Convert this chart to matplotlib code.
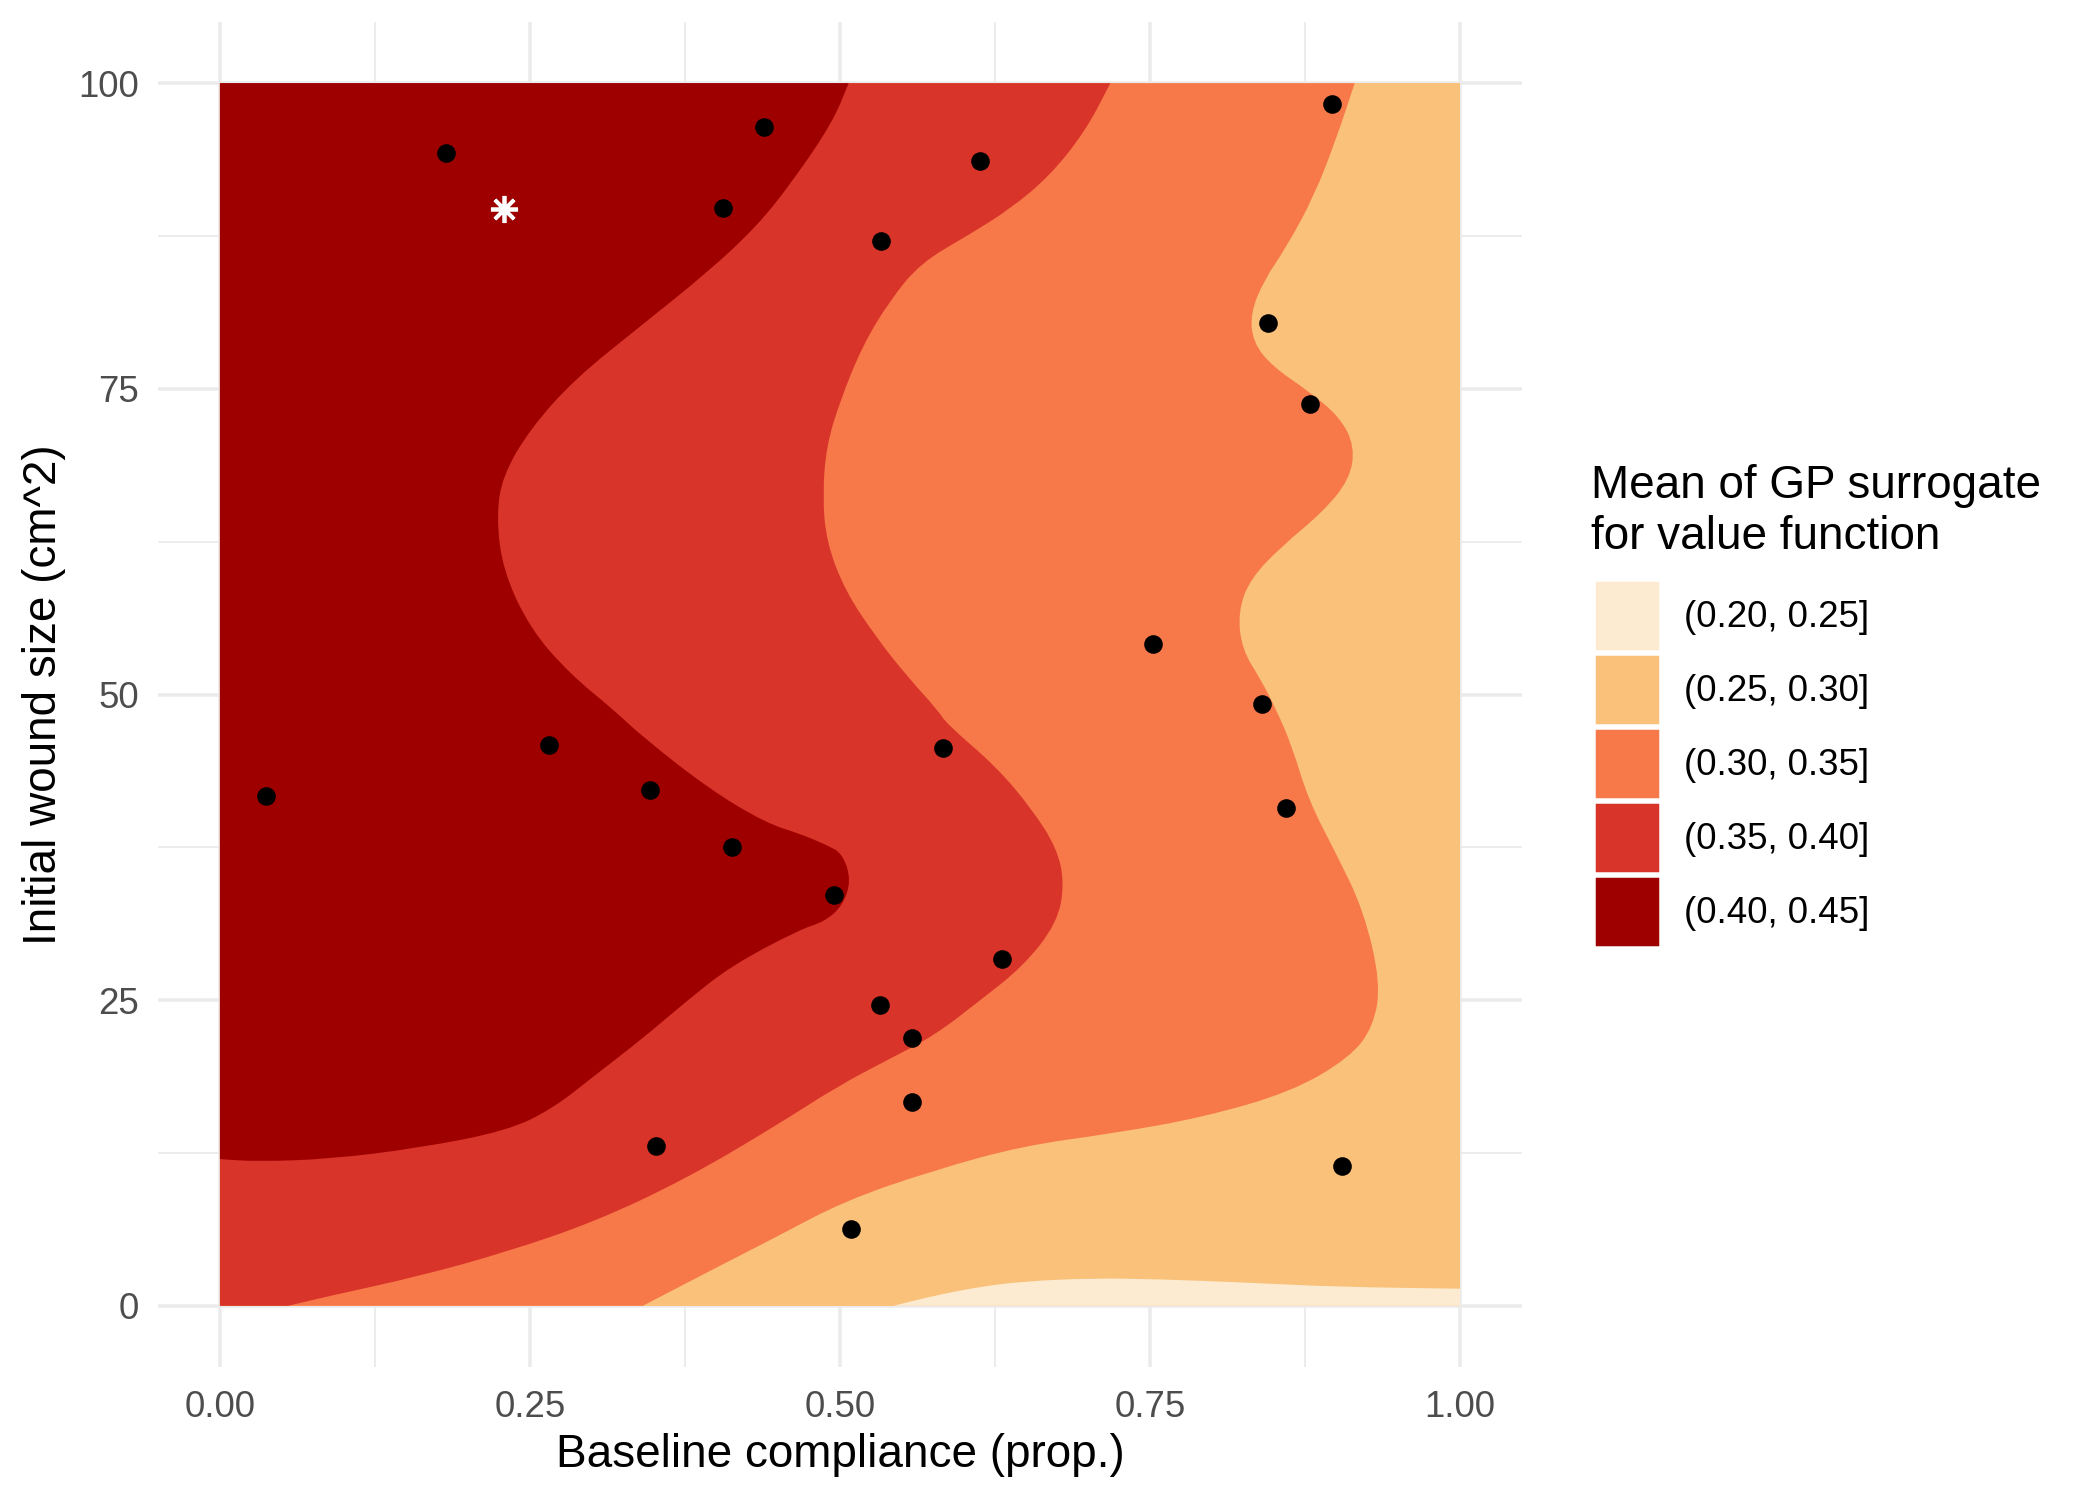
import numpy as np
import matplotlib
matplotlib.use("Agg")
import matplotlib.pyplot as plt
from matplotlib.patches import Patch, PathPatch
from matplotlib.path import Path

plt.rcParams['font.family'] = ['Liberation Sans', 'DejaVu Sans']

# contour boundaries (x = compliance, y = wound size)
# 0.40 level
b1_x = [0.507, 0.494, 0.462, 0.433, 0.394, 0.340, 0.286, 0.250, 0.228, 0.223, 0.228, 0.250,
        0.282, 0.318, 0.340, 0.394, 0.440, 0.468, 0.489, 0.502, 0.509, 0.502, 0.487, 0.468,
        0.412, 0.376, 0.340, 0.303, 0.268, 0.231, 0.160, 0.088, 0.030, 0.0]
b1_y = [100, 96.8, 92.0, 88.3, 84.6, 80.2, 75.8, 71.7, 67.9, 64.6, 60.2, 55.4,
        51.7, 48.7, 46.6, 42.3, 39.5, 38.6, 37.7, 37.0, 34.8, 32.7, 31.4, 30.8,
        27.8, 24.9, 21.8, 18.9, 16.1, 14.3, 12.9, 12.0, 11.8, 12.0]
# 0.35 level
b2_x = [0.718, 0.698, 0.669, 0.637, 0.604, 0.565, 0.540, 0.518, 0.500, 0.489, 0.486, 0.489,
        0.504, 0.529, 0.554, 0.579, 0.586, 0.626, 0.655, 0.675, 0.681, 0.675, 0.648, 0.612,
        0.576, 0.540, 0.497, 0.448, 0.376, 0.303, 0.231, 0.160, 0.088, 0.055]
b2_y = [100, 96.1, 92.4, 89.7, 87.6, 85.3, 82.2, 78.5, 74.0, 70.3, 66.3, 62.5,
        58.5, 54.7, 51.5, 48.7, 47.6, 44.1, 40.6, 37.4, 34.5, 31.3, 27.8, 24.9,
        22.1, 20.2, 17.9, 14.7, 10.4, 6.9, 4.4, 2.4, 0.8, 0.0]
# 0.30 level
b3_x = [0.915, 0.900, 0.882, 0.860, 0.842, 0.831, 0.833, 0.849, 0.878, 0.903, 0.915, 0.911,
        0.889, 0.857, 0.831, 0.821, 0.824, 0.840, 0.852, 0.864, 0.878, 0.900, 0.922, 0.936,
        0.930, 0.911, 0.864, 0.792, 0.720, 0.648, 0.576, 0.504, 0.448, 0.394, 0.341]
b3_y = [100, 95.4, 90.7, 86.6, 83.9, 81.2, 78.8, 76.8, 74.8, 72.7, 70.3, 67.6,
        64.9, 62.2, 59.5, 56.8, 53.7, 51.1, 48.7, 45.9, 41.3, 37.0, 32.4, 26.4,
        22.8, 20.3, 17.5, 15.4, 14.1, 13.1, 11.1, 8.6, 5.6, 2.8, 0.0]
# 0.25 level
b4_x = [0.543, 0.576, 0.612, 0.648, 0.702, 0.756, 0.828, 0.900, 1.0]
b4_y = [0.0, 0.83, 1.55, 2.0, 2.26, 2.18, 1.9, 1.55, 1.4]

# observed design points
pts_x = [0.182, 0.439, 0.406, 0.897, 0.613, 0.533, 0.845, 0.879, 0.752, 0.840, 0.860, 0.583,
         0.495, 0.631, 0.532, 0.558, 0.558, 0.905, 0.509, 0.037, 0.265, 0.347, 0.413, 0.352]
pts_y = [94.3, 96.4, 89.8, 98.3, 93.6, 87.1, 80.4, 73.8, 54.1, 49.2, 40.7, 45.6,
         33.6, 28.4, 24.6, 21.9, 16.7, 11.4, 6.3, 41.7, 45.9, 42.2, 37.5, 13.1]
best_x = [0.229]
best_y = [89.7]

bin_labels = ["(0.20, 0.25]", "(0.25, 0.30]", "(0.30, 0.35]", "(0.35, 0.40]", "(0.40, 0.45]"]
bin_colors = ["#FCEBD1", "#F9C17A", "#F7794A", "#D93429", "#9E0000"]
legend_title = ["Mean of GP surrogate", "for value function"]


def region(xs, ys, close_x, close_y):
    # boundary drawn as a smooth curve (quadratic pieces through midpoints), then closed
    p = list(zip(xs, ys))
    verts = [p[0]]
    codes = [Path.MOVETO]
    verts.append(((p[0][0] + p[1][0]) / 2, (p[0][1] + p[1][1]) / 2))
    codes.append(Path.LINETO)
    for i in range(1, len(p) - 1):
        mid = ((p[i][0] + p[i + 1][0]) / 2, (p[i][1] + p[i + 1][1]) / 2)
        verts += [p[i], mid]
        codes += [Path.CURVE3, Path.CURVE3]
    verts.append(p[-1])
    codes.append(Path.LINETO)
    for cx, cy in zip(close_x, close_y):
        verts.append((cx, cy))
        codes.append(Path.LINETO)
    verts.append(p[0])
    codes.append(Path.CLOSEPOLY)
    return Path(verts, codes)


fig = plt.figure(figsize=(7, 5), dpi=300)
ax = fig.add_axes([0.0752, 0.0887, 0.6496, 0.8966])

# background band, then each region on one side of its boundary
ax.fill([0, 1, 1, 0], [0, 0, 100, 100], color=bin_colors[1], lw=0, zorder=1)
ax.add_patch(PathPatch(region(b3_x, b3_y, [0, 0], [0, 100]), fc=bin_colors[2], lw=0, zorder=2))
ax.add_patch(PathPatch(region(b2_x, b2_y, [0, 0], [0, 100]), fc=bin_colors[3], lw=0, zorder=3))
ax.add_patch(PathPatch(region(b1_x, b1_y, [0], [100]), fc=bin_colors[4], lw=0, zorder=4))
ax.add_patch(PathPatch(region(b4_x, b4_y, [1], [0]), fc=bin_colors[0], lw=0, zorder=5))

ax.scatter(pts_x, pts_y, s=20, color='black', lw=0, zorder=6)
ax.plot(best_x, best_y, ls='none', marker=(8, 2, 0), ms=6.5, mew=0.9, color='white', zorder=7)

ax.set_xlim(-0.05, 1.05)
ax.set_ylim(-5, 105)
ax.set_xticks([0, 0.25, 0.5, 0.75, 1.0])
ax.set_xticklabels(["0.00", "0.25", "0.50", "0.75", "1.00"])
ax.set_xticks([0.125, 0.375, 0.625, 0.875], minor=True)
ax.set_yticks([0, 25, 50, 75, 100])
ax.set_yticks([12.5, 37.5, 62.5, 87.5], minor=True)
ax.set_axisbelow(True)
ax.grid(which='major', color='#EBEBEB', lw=0.85)
ax.grid(which='minor', color='#EBEBEB', lw=0.45)
for s in ax.spines.values():
    s.set_visible(False)
ax.tick_params(which='both', length=0)
ax.tick_params(axis='x', pad=5.5, labelsize=8.8, labelcolor='#4D4D4D')
ax.tick_params(axis='y', pad=4.5, labelsize=8.8, labelcolor='#4D4D4D')
ax.set_xlabel("Baseline compliance (prop.)", fontsize=11, labelpad=2)
ax.set_ylabel("Initial wound size (cm^2)", fontsize=11, labelpad=3)

# legend title as two text lines, keys below
fig.text(0.7576, 0.6677, legend_title[0], fontsize=11, va='baseline', ha='left')
fig.text(0.7576, 0.6343, legend_title[1], fontsize=11, va='baseline', ha='left')
handles = [Patch(facecolor=c, edgecolor='white', lw=0.6) for c in bin_colors]
leg = fig.legend(handles, bin_labels, loc='upper left', bbox_to_anchor=(0.759, 0.613),
                 frameon=False, fontsize=8.8, handlelength=1.8, handleheight=2.6,
                 handletextpad=0.66, labelspacing=0.08, borderpad=0, borderaxespad=0)

fig.savefig("out.png", dpi=300)
